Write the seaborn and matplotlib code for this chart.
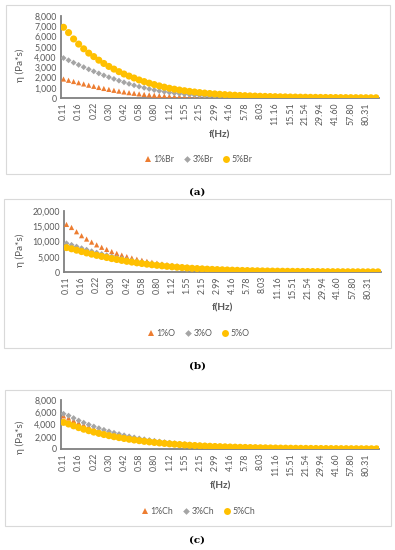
import matplotlib
matplotlib.use("Agg")
import matplotlib.pyplot as plt
from matplotlib.patches import Rectangle
from matplotlib.lines import Line2D
import seaborn as sns
import pandas as pd

# Frequencies (Hz), categorical x axis
freqs = [0.11, 0.12, 0.14, 0.16, 0.17, 0.19, 0.22, 0.24, 0.27, 0.30,
         0.33, 0.37, 0.42, 0.46, 0.52, 0.58, 0.64, 0.72, 0.80, 0.90,
         1.00, 1.12, 1.25, 1.39, 1.55, 1.73, 1.93, 2.15, 2.40, 2.68,
         2.99, 3.34, 3.73, 4.16, 4.64, 5.18, 5.78, 6.45, 7.20, 8.03,
         8.96, 10.00, 11.16, 12.45, 13.89, 15.51, 17.30, 19.31, 21.54, 24.04,
         26.83, 29.94, 33.40, 37.28, 41.60, 46.42, 51.79, 57.80, 64.49, 71.97,
         80.31, 89.61, 100.00]

# Panel (a)
br1 = [1850, 1730, 1610, 1490, 1370, 1250, 1140, 1030, 930, 840,
       750, 670, 590, 520, 460, 400, 350, 305, 265, 230,
       200, 172, 148, 128, 110, 95, 82, 71, 61, 53,
       46, 40, 34, 30, 26, 22, 19, 17, 15, 13,
       11, 10, 9, 8, 7, 6, 5, 5, 4, 4,
       3, 3, 3, 2, 2, 2, 2, 2, 1, 1,
       1, 1, 1]
br3 = [3900, 3680, 3450, 3230, 3010, 2800, 2600, 2400, 2210, 2030,
       1860, 1690, 1530, 1380, 1240, 1110, 990, 880, 780, 690,
       610, 540, 475, 420, 370, 325, 285, 250, 220, 195,
       172, 152, 134, 118, 104, 92, 81, 72, 64, 57,
       50, 45, 40, 36, 32, 28, 25, 22, 20, 18,
       16, 14, 13, 12, 11, 10, 9, 8, 7, 7,
       6, 6, 5]
br5 = [6900, 6380, 5760, 5260, 4800, 4380, 4040, 3690, 3370, 3080,
       2820, 2570, 2340, 2140, 1950, 1760, 1600, 1450, 1310, 1180,
       1060, 950, 860, 780, 710, 645, 585, 530, 480, 438,
       398, 362, 330, 300, 273, 248, 226, 206, 188, 171,
       156, 142, 130, 118, 108, 98, 90, 82, 75, 68,
       62, 57, 52, 47, 43, 39, 36, 33, 30, 27,
       25, 23, 21]

# Panel (b)
o1 = [15600, 14600, 13200, 11900, 10800, 9800, 8900, 8100, 7400, 6700,
      6100, 5550, 5050, 4600, 4200, 3850, 3500, 3200, 2900, 2650,
      2400, 2200, 2000, 1800, 1600, 1450, 1300, 1180, 1060, 950,
      850, 760, 680, 610, 550, 490, 440, 400, 360, 320,
      290, 260, 235, 210, 190, 170, 155, 140, 125, 115,
      105, 95, 85, 78, 70, 64, 58, 52, 47, 43,
      39, 35, 32]
o3 = [9400, 8900, 8350, 7800, 7300, 6800, 6350, 5900, 5500, 5100,
      4750, 4400, 4050, 3750, 3450, 3200, 2950, 2700, 2500, 2300,
      2100, 1930, 1770, 1620, 1480, 1350, 1230, 1120, 1020, 930,
      850, 770, 700, 640, 580, 530, 480, 440, 400, 360,
      330, 300, 270, 245, 222, 200, 182, 165, 150, 136,
      124, 112, 102, 92, 84, 76, 69, 63, 57, 52,
      47, 43, 39]
o5 = [8000, 7600, 7150, 6700, 6250, 5850, 5450, 5100, 4750, 4400,
      4100, 3800, 3500, 3250, 3000, 2780, 2570, 2370, 2190, 2020,
      1860, 1710, 1570, 1440, 1320, 1210, 1110, 1020, 930, 850,
      780, 715, 655, 600, 550, 505, 462, 423, 388, 355,
      325, 298, 273, 250, 229, 210, 192, 176, 161, 148,
      135, 124, 113, 104, 95, 87, 80, 73, 67, 61,
      56, 51, 47]

# Panel (c)
ch1 = [5400, 5050, 4650, 4280, 3950, 3650, 3370, 3110, 2870, 2650,
       2440, 2250, 2070, 1900, 1750, 1600, 1470, 1350, 1240, 1130,
       1040, 950, 870, 800, 730, 670, 610, 560, 510, 470,
       430, 390, 358, 327, 299, 273, 250, 228, 209, 191,
       174, 159, 146, 133, 122, 111, 102, 93, 85, 78,
       71, 65, 59, 54, 50, 45, 41, 38, 35, 32,
       29, 26, 24]
ch3 = [5750, 5450, 5050, 4650, 4300, 3980, 3680, 3400, 3130, 2880,
       2650, 2440, 2240, 2060, 1890, 1730, 1590, 1460, 1340, 1230,
       1120, 1030, 940, 860, 790, 720, 660, 600, 550, 500,
       460, 420, 385, 350, 320, 293, 268, 245, 224, 205,
       187, 171, 156, 143, 131, 120, 110, 100, 92, 84,
       77, 70, 64, 59, 54, 49, 45, 41, 38, 35,
       32, 29, 27]
ch5 = [4350, 4080, 3780, 3490, 3230, 2990, 2760, 2550, 2360, 2180,
       2010, 1860, 1720, 1590, 1470, 1360, 1250, 1160, 1070, 990,
       910, 840, 780, 720, 660, 610, 565, 520, 480, 445,
       410, 380, 350, 323, 298, 275, 254, 235, 217, 200,
       185, 171, 158, 146, 135, 125, 115, 106, 98, 91,
       84, 77, 71, 66, 61, 56, 52, 48, 44, 41,
       38, 35, 32]

panel_names = ["(a)", "(b)", "(c)"]
series_names = [["1%Br", "3%Br", "5%Br"],
                ["1%O", "3%O", "5%O"],
                ["1%Ch", "3%Ch", "5%Ch"]]
series_values = [[br1, br3, br5], [o1, o3, o5], [ch1, ch3, ch5]]
y_ticks = [[0, 1000, 2000, 3000, 4000, 5000, 6000, 7000, 8000],
           [0, 5000, 10000, 15000, 20000],
           [0, 2000, 4000, 6000, 8000]]

colors = ["#ED7D31", "#A5A5A5", "#FFC000"]
markers = ["^", "D", "o"]
sizes = [14, 9, 26]

sns.set_style("white")
plt.rcParams["font.family"] = ["Lato", "DejaVu Sans"]
text_col = "#595959"

W, H = 395, 550
fig = plt.figure(figsize=(W / 100, H / 100), dpi=100)

# pixel layouts: plot area (left, right, top, bottom), box, legend y, xlabel y, ylabel y, caption y
layouts = [
    dict(ax=(61, 378.5, 16, 98), box=(6, 390, 5, 174), leg=160, xl=135, yl=65, cap=192),
    dict(ax=(64, 380.5, 211, 272), box=(4, 391, 199, 348), leg=334, xl=308, yl=250, cap=366),
    dict(ax=(61, 379, 400, 449), box=(5, 391, 390, 526), leg=512, xl=486, yl=437, cap=540),
]

idx = list(range(len(freqs)))
tick_pos = idx[::3]
tick_labels = [f"{f:.2f}" for f in freqs[::3]]

for p in range(3):
    lay = layouts[p]
    l, r, t, b = lay["ax"]
    ax = fig.add_axes([l / W, 1 - b / H, (r - l) / W, (b - t) / H])

    bl, br, bt, bb = lay["box"]
    fig.add_artist(Rectangle((bl / W, 1 - bb / H), (br - bl) / W, (bb - bt) / H,
                             transform=fig.transFigure, fill=False,
                             edgecolor="#D9D9D9", linewidth=0.8))

    frames = []
    for name, vals in zip(series_names[p], series_values[p]):
        frames.append(pd.DataFrame({"idx": idx, "eta": vals, "series": name}))
    df = pd.concat(frames, ignore_index=True)

    sns.scatterplot(data=df, x="idx", y="eta", hue="series", style="series",
                    size="series",
                    palette=dict(zip(series_names[p], colors)),
                    markers=dict(zip(series_names[p], markers)),
                    sizes=dict(zip(series_names[p], sizes)),
                    linewidth=0, legend=False, ax=ax, zorder=3)

    ax.set_xlim(-0.5, len(freqs) - 0.5)
    ax.set_ylim(y_ticks[p][0], y_ticks[p][-1])
    ax.set_yticks(y_ticks[p])
    ax.set_yticklabels([f"{v:,}" for v in y_ticks[p]], fontsize=6.3, color=text_col)
    ax.set_xticks(tick_pos)
    ax.set_xticklabels(tick_labels, rotation=90, fontsize=6.3, color=text_col)
    ax.tick_params(axis="both", length=0, pad=3)
    ax.set_xlabel("")
    ax.set_ylabel("")
    for s in ["top", "right"]:
        ax.spines[s].set_visible(False)
    for s in ["left", "bottom"]:
        ax.spines[s].set_color("#808080")
        ax.spines[s].set_linewidth(1.3)
    ax.spines["bottom"].set_zorder(2)

    fig.text((l + r) / 2 / W, 1 - lay["xl"] / H, "f(Hz)", ha="center", va="center",
             fontsize=7.2, color=text_col, fontweight="bold")
    fig.text(20 / W, 1 - lay["yl"] / H, "η (Pa*s)", ha="center", va="center",
             rotation=90, fontsize=7.2, color=text_col)
    fig.text(197.5 / W, 1 - lay["cap"] / H, panel_names[p], ha="center", va="center",
             fontsize=7.5, fontweight="bold", family=["DejaVu Serif"], color="black")

    handles = [Line2D([], [], linestyle="none", marker=m, color=c,
                      markersize=(4.0 if m == "^" else 3.4 if m == "D" else 5.0),
                      markeredgewidth=0)
               for m, c in zip(markers, colors)]
    fig.legend(handles, series_names[p], loc="center",
               bbox_to_anchor=(198 / W, 1 - lay["leg"] / H),
               ncol=3, frameon=False, fontsize=6.3, handletextpad=0.1,
               columnspacing=1.0, handlelength=1.0, labelcolor=text_col)

fig.savefig("out.png", dpi=100)
